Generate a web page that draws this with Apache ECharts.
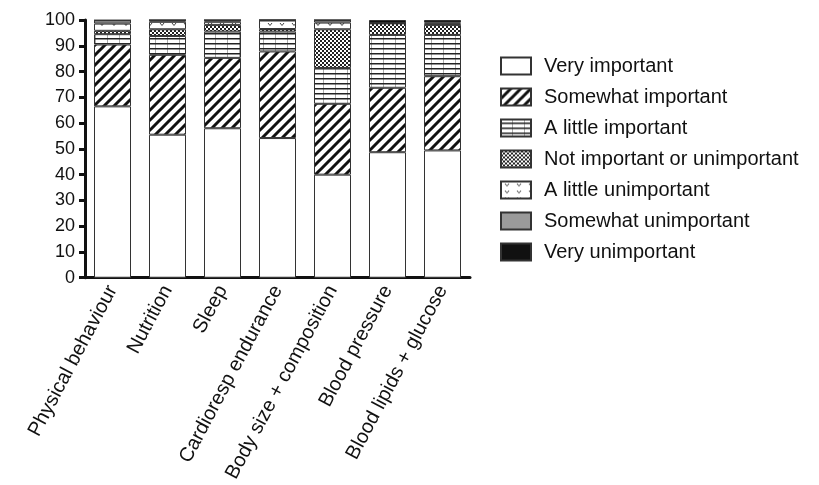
<!DOCTYPE html>
<html>
<head>
<meta charset="utf-8">
<script src="https://cdn.jsdelivr.net/npm/echarts@6/dist/echarts.min.js"></script>
<style>
  html, body { margin: 0; padding: 0; background: #fff; }
  #chart { width: 819px; height: 485px; }
</style>
</head>
<body>
<div id="chart"></div>
<script>
const categories = ['Physical behaviour', 'Nutrition', 'Sleep', 'Cardioresp endurance',
  'Body size + composition', 'Blood pressure', 'Blood lipids + glucose']
const levels = ['Very important', 'Somewhat important', 'A little important',
  'Not important or unimportant', 'A little unimportant', 'Somewhat unimportant', 'Very unimportant']

const veryImportant       = [66.5, 55.5, 58.0, 54.2, 40.0, 48.7, 49.4]
const somewhatImportant   = [24.0, 31.0, 27.3, 33.6, 27.5, 25.0, 28.8]
const littleImportant     = [4.0, 7.3, 10.2, 7.7, 13.9, 20.5, 16.0]
const notImportant        = [1.3, 2.6, 2.6, 1.0, 15.0, 4.5, 3.9]
const littleUnimportant   = [2.8, 2.9, 1.2, 3.3, 2.6, 0, 0.5]
const somewhatUnimportant = [1.3, 0.7, 0.7, 0.2, 1.0, 0, 0.4]
const veryUnimportant     = [0, 0, 0, 0, 0, 1.3, 1.0]

const yTicks = [0, 100, 10] // min, max, interval

// canvas tiles used as fill patterns
function tile(w, h, draw) {
  const c = document.createElement('canvas')
  c.width = w
  c.height = h
  const g = c.getContext('2d')
  g.fillStyle = '#fff'
  g.fillRect(0, 0, w, h)
  draw(g)
  return { image: c, repeat: 'repeat' }
}

const fills = [
  '#ffffff',
  tile(10, 10, g => {
    g.strokeStyle = '#111'
    g.lineWidth = 3
    g.beginPath()
    g.moveTo(-2, 12); g.lineTo(12, -2)
    g.moveTo(-7, 7); g.lineTo(7, -7)
    g.moveTo(3, 17); g.lineTo(17, 3)
    g.stroke()
  }),
  tile(12, 5, g => {
    g.fillStyle = '#aaa'
    g.fillRect(11, 0, 1, 5)
    g.fillStyle = '#222'
    g.fillRect(0, 3, 12, 1.5)
  }),
  tile(4, 4, g => {
    g.fillStyle = '#222'
    g.fillRect(0, 0, 2, 2)
    g.fillRect(2, 2, 2, 2)
  }),
  tile(12, 7, g => {
    g.strokeStyle = '#444'
    g.lineWidth = 1
    g.beginPath()
    g.moveTo(4, 2); g.lineTo(6, 4.5); g.lineTo(8, 2)
    g.stroke()
  }),
  '#9a9a9a',
  '#111111'
]

const seriesData = [veryImportant, somewhatImportant, littleImportant, notImportant,
  littleUnimportant, somewhatUnimportant, veryUnimportant]

const chart = echarts.init(document.getElementById('chart'), null, { renderer: 'canvas' })

const option = {
  animation: false,
  textStyle: { fontFamily: 'Liberation Sans, Arial, sans-serif', color: '#111' },
  grid: { left: 85, top: 20, width: 385, height: 258, containLabel: false },
  legend: {
    orient: 'vertical',
    left: 500,
    top: 56,
    padding: 0,
    icon: 'rect',
    itemWidth: 30,
    itemHeight: 17,
    itemGap: 11,
    data: levels,
    textStyle: { fontSize: 20, color: '#111', padding: [0, 0, 0, 8] }
  },
  xAxis: {
    type: 'category',
    data: categories,
    axisLine: { lineStyle: { color: '#111', width: 3 } },
    axisTick: { alignWithLabel: true, length: 6, lineStyle: { color: '#111', width: 3 } },
    axisLabel: { rotate: 62, fontSize: 20, color: '#111', margin: 9, interval: 0 }
  },
  yAxis: {
    type: 'value',
    min: yTicks[0],
    max: yTicks[1],
    interval: yTicks[2],
    axisLine: { show: true, lineStyle: { color: '#111', width: 3 } },
    axisTick: { show: true, length: 6, lineStyle: { color: '#111', width: 3 } },
    axisLabel: { fontSize: 18, color: '#111', margin: 10 },
    splitLine: { show: false }
  },
  series: levels.map((name, i) => ({
    name,
    type: 'bar',
    stack: 'total',
    barWidth: 37,
    data: seriesData[i],
    itemStyle: { color: fills[i], borderColor: '#333', borderWidth: 1 }
  }))
}

chart.setOption(option)
</script>
</body>
</html>
